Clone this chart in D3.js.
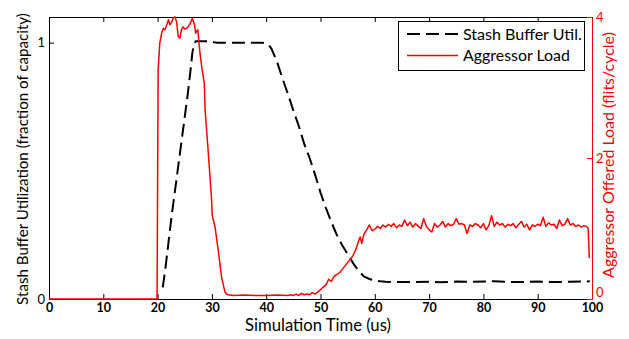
<!DOCTYPE html>
<html><head><meta charset="utf-8">
<script src="https://cdn.jsdelivr.net/npm/d3@7"></script>
<style>body{margin:0;background:#fff}svg{display:block}</style>
</head><body>
<svg id="c" width="629" height="339"></svg>
<script>
// ---- data ----
const xTicks = [0, 10, 20, 30, 40, 50, 60, 70, 80, 90, 100];
const leftTicks = [0, 1];
const rightTicks = [0, 2, 4];
const seriesNames = ["Stash Buffer Util.", "Aggressor Load"];
const xTitle = "Simulation Time (us)";
const leftTitle = "Stash Buffer Utilization (fraction of capacity)";
const rightTitle = "Aggressor Offered Load (flits/cycle)";

const utilTime = [20.95, 21.5, 22, 22.5, 23, 23.5, 24, 24.5, 25, 25.5, 26, 26.4, 26.7, 27, 29, 31, 33, 35, 37, 39, 39.8, 40.5, 41, 42, 43, 44, 45, 46, 47, 48, 49, 50, 51, 52, 53, 54, 55, 56, 57, 58, 59, 60, 61, 62, 65, 70, 72, 75, 78, 82, 86, 90, 93, 96, 99.6];
const utilValue = [0.045, 0.13, 0.22, 0.31, 0.39, 0.47, 0.55, 0.63, 0.71, 0.79, 0.88, 0.96, 0.995, 1.005, 1.005, 1.0, 1.0, 1.0, 1.0, 1.0, 0.998, 0.99, 0.975, 0.925, 0.86, 0.80, 0.735, 0.675, 0.605, 0.55, 0.485, 0.415, 0.355, 0.30, 0.25, 0.21, 0.175, 0.14, 0.11, 0.088, 0.078, 0.073, 0.069, 0.067, 0.066, 0.067, 0.065, 0.068, 0.067, 0.069, 0.066, 0.068, 0.066, 0.067, 0.069];

const loadTime = [0, 19.9, 20.1, 20.4, 20.75, 21.05, 21.35, 21.7, 22.0, 22.3, 22.6, 22.9, 23.2, 23.5, 23.8, 24.1, 24.4, 24.7, 25.0, 25.4, 25.7, 26.0, 26.4, 26.8, 27.0, 27.4, 27.8, 28.2, 28.6, 28.75, 29.3, 29.95, 30.05, 30.6, 31.2, 31.8, 32.4, 32.7, 33.0,
  34, 36, 38, 40, 42, 44, 44.5, 45, 45.5, 46, 46.5, 47, 47.5, 48, 48.5, 49, 49.5, 50, 50.5, 51, 51.5, 52, 52.5, 53, 53.5, 54, 54.5, 55, 55.5, 56, 56.5, 57, 57.3, 57.6, 58, 58.5, 59, 59.5,
  60, 60.5, 61, 61.5, 62, 62.5, 63, 63.5, 64, 64.5, 65, 65.5, 66, 66.5, 67, 67.5, 68, 68.5, 69, 69.5,
  70, 70.5, 71, 71.5, 72, 72.5, 73, 73.5, 74, 74.5, 75, 75.5, 76, 76.5, 77, 77.5, 78, 78.5, 79, 79.5,
  80, 80.5, 81, 81.5, 82, 82.5, 83, 83.5, 84, 84.5, 85, 85.5, 86, 86.5, 87, 87.5, 88, 88.5, 89, 89.5,
  90, 90.5, 91, 91.5, 92, 92.5, 93, 93.5, 94, 94.5, 95, 95.5, 96, 96.5, 97, 97.5, 98, 98.5, 99, 99.3, 99.5];
const loadValue = [0, 0, 3.25, 3.63, 3.77, 3.84, 3.82, 3.89, 3.96, 3.89, 3.93, 3.99, 4.0, 3.93, 3.72, 3.70, 3.82, 3.86, 3.83, 3.84, 3.87, 3.91, 3.98, 3.89, 3.77, 3.82, 3.49, 3.25, 3.06, 2.68, 2.11, 1.40, 1.19, 1.01, 0.67, 0.30, 0.10, 0.07, 0.06,
  0.05, 0.055, 0.05, 0.05, 0.055, 0.05, 0.06, 0.05, 0.07, 0.05, 0.08, 0.06, 0.07, 0.06, 0.09, 0.07, 0.10, 0.13, 0.17, 0.20, 0.28, 0.25, 0.32, 0.35, 0.37, 0.42, 0.47, 0.52, 0.56, 0.62, 0.70, 0.82, 0.88, 0.79, 0.92, 0.98, 1.05, 0.97,
  0.99, 1.03, 1.00, 1.05, 1.02, 1.06, 1.03, 1.07, 1.01, 1.05, 1.03, 1.12, 1.04, 1.09, 1.02, 1.07, 1.03, 1.00, 1.14, 1.03,
  0.98, 0.95, 1.07, 1.02, 1.05, 1.10, 1.02, 1.07, 1.04, 1.06, 1.14, 1.06, 1.07, 1.05, 0.93, 1.05, 1.03, 1.07, 1.05, 1.01,
  1.07, 0.98, 1.04, 1.18, 1.03, 1.09, 1.05, 1.07, 1.02, 1.06, 1.04, 1.07, 1.01, 1.06, 1.10, 1.02, 1.06, 0.98, 1.05, 1.03,
  1.06, 1.04, 1.16, 1.03, 1.08, 1.05, 1.06, 1.00, 1.12, 1.04, 1.06, 1.14, 1.05, 1.07, 1.03, 1.05, 1.02, 1.04, 1.03, 1.00, 0.58];

// ---- layout ----
const W = 629, H = 339;
const m = {left: 49, right: 37, top: 17, bottom: 40};
const FONT = "Lato, 'Open Sans', sans-serif";
const RED = "#ff0000";

const svg = d3.select("#c");
const x = d3.scaleLinear().domain([0, 100]).range([m.left, W - m.right]);
const yL = d3.scaleLinear().domain([0, 1.1]).range([H - m.bottom, m.top]);
const yR = d3.scaleLinear().domain([0, 4]).range([H - m.bottom, m.top]);

function styleAxis(g, color) {
  g.select(".domain").attr("stroke", color).attr("stroke-width", 1);
  g.selectAll(".tick line").attr("stroke", color);
  g.selectAll(".tick text").attr("fill", color).attr("font-family", FONT);
}

// top axis (ticks only)
svg.append("g").attr("transform", `translate(0,${m.top})`)
  .call(d3.axisTop(x).tickValues(xTicks).tickSizeInner(-5).tickSizeOuter(0).tickFormat(""))
  .call(g => styleAxis(g, "#000"));

// left axis
svg.append("g").attr("transform", `translate(${m.left},0)`)
  .call(d3.axisLeft(yL).tickValues(leftTicks).tickSizeInner(-5).tickSizeOuter(0).tickPadding(4).tickFormat(d3.format("d")))
  .call(g => styleAxis(g, "#000"))
  .call(g => g.selectAll(".tick text").attr("font-size", 13));

// bottom axis
svg.append("g").attr("transform", `translate(0,${H - m.bottom})`)
  .call(d3.axisBottom(x).tickValues(xTicks).tickSizeInner(-5).tickSizeOuter(0).tickPadding(4.5).tickFormat(d3.format("d")))
  .call(g => styleAxis(g, "#000"))
  .call(g => g.selectAll(".tick text").attr("font-size", 12.5).attr("font-weight", "bold"));

// right axis
svg.append("g").attr("transform", `translate(${W - m.right},0)`)
  .call(d3.axisRight(yR).tickValues(rightTicks).tickSizeInner(-5).tickSizeOuter(0).tickPadding(4).tickFormat(d3.format("d")))
  .call(g => styleAxis(g, RED))
  .call(g => g.selectAll(".tick text").attr("font-size", 13))
  .call(g => g.selectAll(".tick").filter(d => d === 0).select("text").attr("dy", "-0.2em"));

// lines
const utilData = utilTime.map((t, i) => [t, utilValue[i]]);
const loadData = loadTime.map((t, i) => [t, loadValue[i]]);

svg.append("path").datum(utilData)
  .attr("fill", "none").attr("stroke", "#000").attr("stroke-width", 2)
  .attr("stroke-dasharray", "13,6")
  .attr("d", d3.line().x(d => x(d[0])).y(d => yL(d[1])));

svg.append("path").datum(loadData)
  .attr("fill", "none").attr("stroke", RED).attr("stroke-width", 1.5)
  .attr("stroke-linejoin", "round")
  .attr("d", d3.line().x(d => x(d[0])).y(d => yR(d[1])));

function fit(sel, target) {
  const w = sel.node().getComputedTextLength();
  const fs = parseFloat(sel.attr("font-size"));
  sel.attr("font-size", fs * target / w);
}

// axis titles
fit(svg.append("text").attr("x", 318).attr("y", 331).attr("text-anchor", "middle")
  .attr("font-family", FONT).attr("font-size", 15).attr("fill", "#000").text(xTitle), 146);
fit(svg.append("text").attr("transform", "translate(28,159) rotate(-90)").attr("text-anchor", "middle")
  .attr("font-family", FONT).attr("font-size", 15).attr("fill", "#000").text(leftTitle), 292);
fit(svg.append("text").attr("transform", "translate(614,155) rotate(-90)").attr("text-anchor", "middle")
  .attr("font-family", FONT).attr("font-size", 15).attr("fill", RED).text(rightTitle), 246);

// legend
const lg = svg.append("g");
lg.append("rect").attr("x", 398.5).attr("y", 21.5).attr("width", 186).attr("height", 49)
  .attr("fill", "#fff").attr("stroke", "#000").attr("stroke-width", 1);
const legendStyles = [{color: "#000", dash: "13,6", width: 2, target: 119}, {color: RED, dash: null, width: 1.5, target: 107}];
seriesNames.forEach((name, i) => {
  const cy = 34 + i * 21.5;
  const s = legendStyles[i];
  lg.append("line").attr("x1", 407).attr("x2", 458).attr("y1", cy).attr("y2", cy)
    .attr("stroke", s.color).attr("stroke-width", s.width).attr("stroke-dasharray", s.dash);
  fit(lg.append("text").attr("x", 463).attr("y", cy + 5.5).attr("font-family", FONT)
    .attr("font-size", 15).attr("fill", "#000").text(name), s.target);
});
</script>
</body></html>
